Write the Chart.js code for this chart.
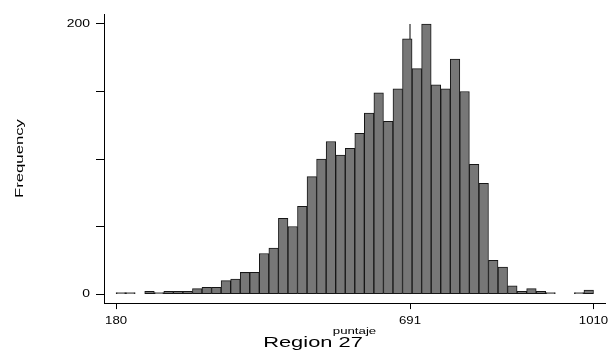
<!DOCTYPE html>
<html>
<head>
<meta charset="utf-8">
<script src="https://cdn.jsdelivr.net/npm/chart.js@4.4.1/dist/chart.umd.min.js"></script>
<style>
  html, body { margin: 0; padding: 0; background: #ffffff; }
  #wrap { width: 616px; height: 357px; position: relative; }
</style>
</head>
<body>
<div id="wrap"><canvas id="histChart"></canvas></div>
<script>
// Histograma de puntaje - Region 27
const binStart = 180;
const binWidth = 16.6; // (1010 - 180) / 50
const counts = [
    1, 1, 0, 2, 1, 2, 2, 2, 4, 5,
    5, 10, 11, 16, 16, 30, 34, 56, 50, 65,
    87, 100, 113, 103, 108, 119, 134, 149, 128, 152,
    189, 167, 200, 155, 152, 174, 150, 96, 82, 25,
    20, 6, 2, 4, 2, 1, 0, 0, 1, 3
];
const xTicks = [180, 691, 1010];
const yTicks = [0, 50, 100, 150, 200];
const yLabeled = [0, 200];
const refLineX = 691;

const FONT = "'Liberation Sans', Arial, Helvetica, sans-serif";

// El texto de Stata sale mas ancho: estirar horizontalmente los textos
const textStretch = { 'Region 27': 1.42, 'Frequency': 1.55, 'puntaje': 1.38 };
const defaultStretch = 1.2;

const stretchText = {
    id: 'stretchText',
    afterLayout(chart) {
        // centrar el titulo como en la imagen original
        const t = chart.titleBlock;
        if (t) { t.left = 21; t.right = 605; }
    },
    beforeDraw(chart) {
        const c = chart.ctx;
        if (c._stretched) return;
        const origFill = c.fillText;
        c.fillText = function(text, x, y, maxWidth) {
            const k = textStretch[text] || defaultStretch;
            this.save();
            this.translate(x, y);
            this.scale(k, 1);
            origFill.call(this, text, 0, 0);
            this.restore();
        };
        c._stretched = true;
    }
};

// Centro de cada barra
const barData = counts.map((c, i) => ({
    x: binStart + binWidth * (i + 0.5),
    y: c === 0 ? null : c
}));

const ctx = document.getElementById('histChart');
new Chart(ctx.getContext('2d'), {
    type: 'bar',
    data: {
        datasets: [{
            type: 'bar',
            data: barData,
            backgroundColor: '#777777',
            borderColor: '#161616',
            borderWidth: 1,
            borderSkipped: false,
            barPercentage: 1.0,
            categoryPercentage: 1.0,
            order: 1
        }, {
            type: 'line',
            data: [{ x: refLineX, y: 0 }, { x: refLineX, y: 200 }],
            borderColor: '#000000',
            borderWidth: 1,
            pointRadius: 0,
            fill: false,
            order: 2
        }]
    },
    plugins: [stretchText],
    options: {
        responsive: true,
        maintainAspectRatio: false,
        animation: false,
        layout: { padding: { left: 0, right: 11, top: 14, bottom: 0 } },
        plugins: {
            legend: { display: false },
            tooltip: { enabled: false },
            title: {
                display: true,
                text: 'Region 27',
                position: 'bottom',
                color: '#000000',
                font: { family: FONT, size: 15.4, weight: 'normal', lineHeight: 1.0 },
                padding: { top: 0, bottom: 6.2 }
            }
        },
        scales: {
            x: {
                type: 'linear',
                min: 159,
                max: 1030,
                offset: false,
                afterBuildTicks: (scale) => { scale.ticks = xTicks.map(v => ({ value: v })); },
                afterFit: (scale) => { scale.height = 32.3; },
                grid: { offset: false, drawOnChartArea: false, drawTicks: true, tickLength: 6, color: '#000000' },
                border: { display: true, color: '#000000', width: 1 },
                ticks: {
                    color: '#000000',
                    padding: 5,
                    maxRotation: 0,
                    autoSkip: false,
                    font: { family: FONT, size: 11 },
                    callback: (v) => v
                },
                title: {
                    display: true,
                    text: 'puntaje',
                    color: '#000000',
                    font: { family: FONT, size: 9.6 },
                    padding: { top: 0, bottom: -2 }
                }
            },
            y: {
                min: -6.7,
                max: 207.4,
                afterBuildTicks: (scale) => { scale.ticks = yTicks.map(v => ({ value: v })); },
                afterFit: (scale) => { scale.width = 104; },
                grid: { drawOnChartArea: false, drawTicks: true, tickLength: 8, color: '#000000' },
                border: { display: true, color: '#000000', width: 1 },
                ticks: {
                    color: '#000000',
                    padding: 6,
                    autoSkip: false,
                    font: { family: FONT, size: 11.6 },
                    callback: (v) => yLabeled.includes(v) ? v : ''
                },
                title: {
                    display: true,
                    text: 'Frequency',
                    color: '#000000',
                    font: { family: FONT, size: 10.8 },
                    padding: { top: 13.5, bottom: 0 }
                }
            }
        }
    }
});
</script>
</body>
</html>
